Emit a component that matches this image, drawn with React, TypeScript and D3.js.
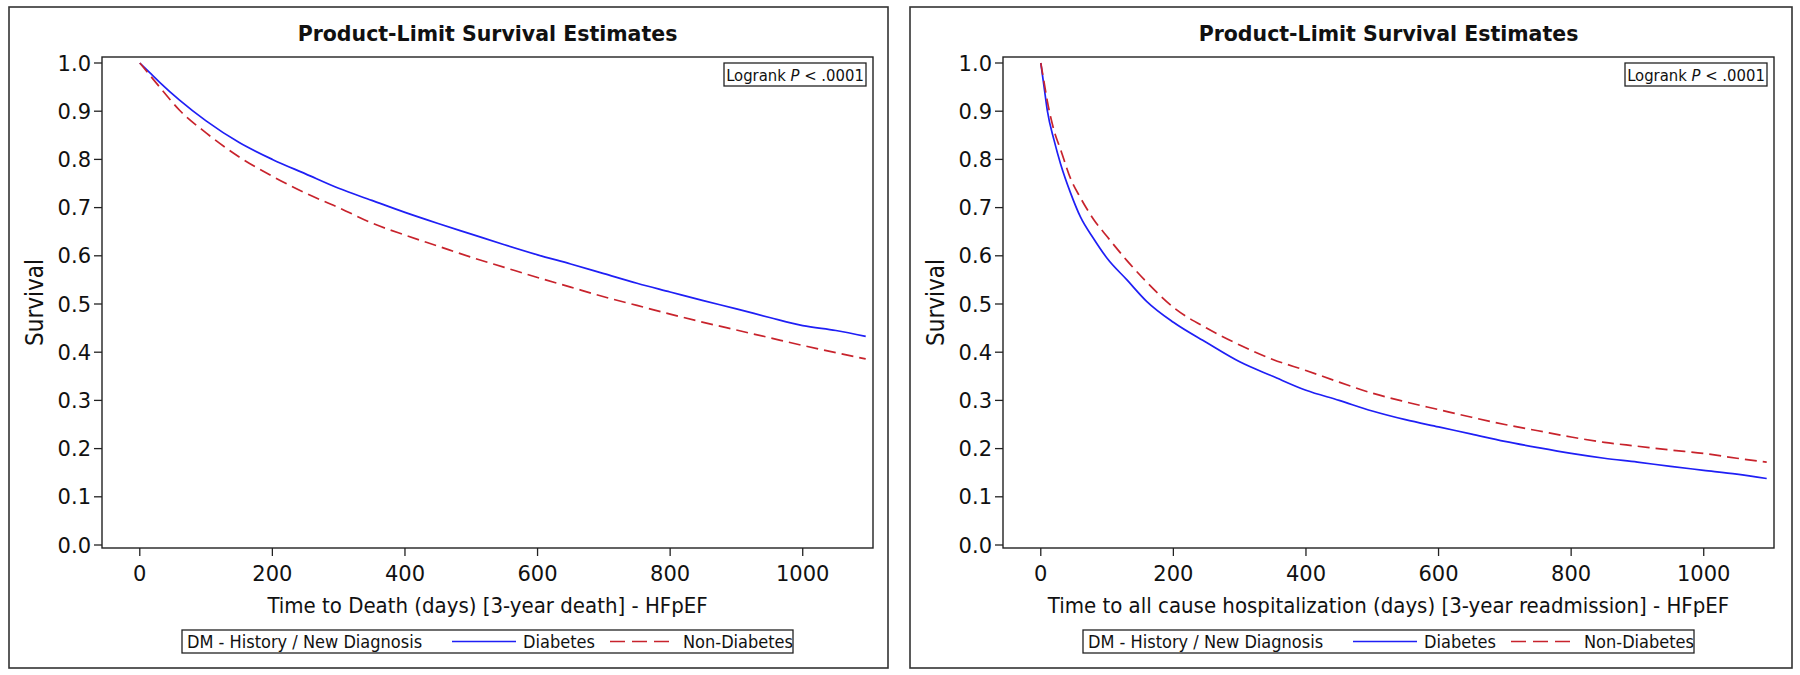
import React from "react";
import * as d3 from "d3";

// Kaplan-Meier estimates (days, survival)
const deathDays = [0, 15, 30, 60, 100, 150, 200, 250, 300, 350, 400, 450, 500, 550, 600, 650, 700, 750, 800, 850, 900, 950, 1000, 1050, 1095];
const deathDiabetes = [1.0, 0.98, 0.96, 0.923, 0.88, 0.835, 0.8, 0.77, 0.74, 0.715, 0.69, 0.667, 0.645, 0.623, 0.602, 0.583, 0.563, 0.543, 0.525, 0.507, 0.49, 0.472, 0.455, 0.445, 0.433];
const deathNonDiabetes = [1.0, 0.975, 0.95, 0.902, 0.855, 0.805, 0.765, 0.73, 0.7, 0.668, 0.643, 0.62, 0.597, 0.576, 0.555, 0.535, 0.515, 0.497, 0.479, 0.462, 0.446, 0.43, 0.414, 0.399, 0.386];

const hospDays = [0, 5, 10, 20, 30, 45, 60, 80, 100, 130, 160, 200, 250, 300, 350, 400, 450, 500, 550, 600, 650, 700, 750, 800, 850, 900, 950, 1000, 1050, 1095];
const hospDiabetes = [1.0, 0.95, 0.9, 0.84, 0.79, 0.73, 0.68, 0.635, 0.595, 0.55, 0.505, 0.462, 0.42, 0.38, 0.35, 0.321, 0.3, 0.278, 0.26, 0.245, 0.23, 0.215, 0.202, 0.19, 0.18, 0.172, 0.163, 0.155, 0.147, 0.138];
const hospNonDiabetes = [1.0, 0.96, 0.92, 0.86, 0.82, 0.76, 0.72, 0.675, 0.64, 0.59, 0.545, 0.493, 0.45, 0.415, 0.385, 0.362, 0.338, 0.315, 0.297, 0.281, 0.265, 0.25, 0.237, 0.224, 0.213, 0.205, 0.197, 0.19, 0.18, 0.172];

const xTicks = [0, 200, 400, 600, 800, 1000];
const yTicks = [0, 0.1, 0.2, 0.3, 0.4, 0.5, 0.6, 0.7, 0.8, 0.9, 1.0];
const legendTitle = "DM - History / New Diagnosis";
const seriesNames = ["Diabetes", "Non-Diabetes"];

const BLUE = "#1f1ff5";
const RED = "#c8232c";
const INK = "#111";
const LABEL_FONT = "'DejaVu Sans Condensed', 'DejaVu Sans', sans-serif";
const TICK_FONT = "'DejaVu Sans', sans-serif";

interface PanelProps {
  x0: number;
  width: number;
  xLabel: string;
  days: number[];
  diabetes: number[];
  nonDiabetes: number[];
}

function Panel({ x0, width, xLabel, days, diabetes, nonDiabetes }: PanelProps) {
  const y0 = 7;
  const height = 661;
  const plotLeft = x0 + 93;
  const plotRight = plotLeft + 771;
  const plotTop = 57;
  const plotBottom = 548;
  const cx = (plotLeft + plotRight) / 2;

  const x = d3.scaleLinear().domain([-57, 1106]).range([plotLeft, plotRight]);
  const y = d3.scaleLinear().domain([0, 1]).range([545, 63]);

  const line = d3
    .line<[number, number]>()
    .x((d) => x(d[0]))
    .y((d) => y(d[1]))
    .curve(d3.curveMonotoneX);

  const blue = line(days.map((d, i) => [d, diabetes[i]] as [number, number])) || "";
  const red = line(days.map((d, i) => [d, nonDiabetes[i]] as [number, number])) || "";

  // legend layout
  const legW = 611;
  const legL = cx - legW / 2;
  const legT = 630;
  const legH = 23;
  const legMid = legT + legH / 2;

  return (
    <g>
      <rect x={x0} y={y0} width={width} height={height} fill="#fff" stroke="#333" strokeWidth={1.6} />
      <text x={cx} y={41} textAnchor="middle" fontFamily={TICK_FONT} fontWeight="bold" fontSize={20.5} fill={INK}>
        Product-Limit Survival Estimates
      </text>

      {/* plot area */}
      <rect x={plotLeft} y={plotTop} width={plotRight - plotLeft} height={plotBottom - plotTop} fill="none" stroke="#222" strokeWidth={1.4} />

      {/* y axis */}
      {yTicks.map((t) => (
        <g key={"y" + t}>
          <line x1={plotLeft - 8} x2={plotLeft} y1={y(t)} y2={y(t)} stroke="#222" strokeWidth={1.3} />
          <text x={plotLeft - 11} y={y(t)} dy="0.36em" textAnchor="end" fontFamily={TICK_FONT} fontSize={21} fill={INK}>
            {d3.format(".1f")(t)}
          </text>
        </g>
      ))}
      <text
        transform={`translate(${x0 + 25},${(plotTop + plotBottom) / 2}) rotate(-90)`}
        textAnchor="middle"
        dy="0.36em"
        fontFamily={LABEL_FONT}
        fontSize={24}
        fill={INK}
      >
        Survival
      </text>

      {/* x axis */}
      {xTicks.map((t) => (
        <g key={"x" + t}>
          <line x1={x(t)} x2={x(t)} y1={plotBottom} y2={plotBottom + 8} stroke="#222" strokeWidth={1.3} />
          <text x={x(t)} y={581} textAnchor="middle" fontFamily={TICK_FONT} fontSize={21} fill={INK}>
            {t}
          </text>
        </g>
      ))}
      <text x={cx} y={613} textAnchor="middle" fontFamily={LABEL_FONT} fontSize={22} fill={INK}>
        {xLabel}
      </text>

      {/* curves */}
      <path d={blue} fill="none" stroke={BLUE} strokeWidth={1.7} />
      <path d={red} fill="none" stroke={RED} strokeWidth={1.7} strokeDasharray="12,6" />

      {/* logrank */}
      <rect x={plotRight - 149} y={63} width={142} height={23} fill="#fff" stroke="#222" strokeWidth={1.3} />
      <text x={plotRight - 78} y={80.5} textAnchor="middle" fontFamily={LABEL_FONT} fontSize={16.5} fill={INK}>
        Logrank <tspan fontStyle="italic">P</tspan> &lt; .0001
      </text>

      {/* legend */}
      <rect x={legL} y={legT} width={legW} height={legH} fill="#fff" stroke="#222" strokeWidth={1.3} />
      <text x={legL + 5} y={legMid} dy="0.36em" fontFamily={LABEL_FONT} fontSize={18} fill={INK}>
        {legendTitle}
      </text>
      <line x1={legL + 270} x2={legL + 334} y1={legMid} y2={legMid} stroke={BLUE} strokeWidth={1.7} />
      <text x={legL + 341} y={legMid} dy="0.36em" fontFamily={LABEL_FONT} fontSize={18} fill={INK}>
        {seriesNames[0]}
      </text>
      <line x1={legL + 428} x2={legL + 488} y1={legMid} y2={legMid} stroke={RED} strokeWidth={1.7} strokeDasharray="15,7" />
      <text x={legL + 501} y={legMid} dy="0.36em" fontFamily={LABEL_FONT} fontSize={18} fill={INK}>
        {seriesNames[1]}
      </text>
    </g>
  );
}

export default function App() {
  return (
    <svg
      width={1800}
      height={675}
      style={{ position: "absolute", left: 0, top: 0, background: "#fff" }}
    >
      <rect x={0} y={0} width={1800} height={675} fill="#fff" />
      <Panel
        x0={9}
        width={879}
        xLabel="Time to Death (days) [3-year death] - HFpEF"
        days={deathDays}
        diabetes={deathDiabetes}
        nonDiabetes={deathNonDiabetes}
      />
      <Panel
        x0={910}
        width={882}
        xLabel="Time to all cause hospitalization (days) [3-year readmission] - HFpEF"
        days={hospDays}
        diabetes={hospDiabetes}
        nonDiabetes={hospNonDiabetes}
      />
    </svg>
  );
}
